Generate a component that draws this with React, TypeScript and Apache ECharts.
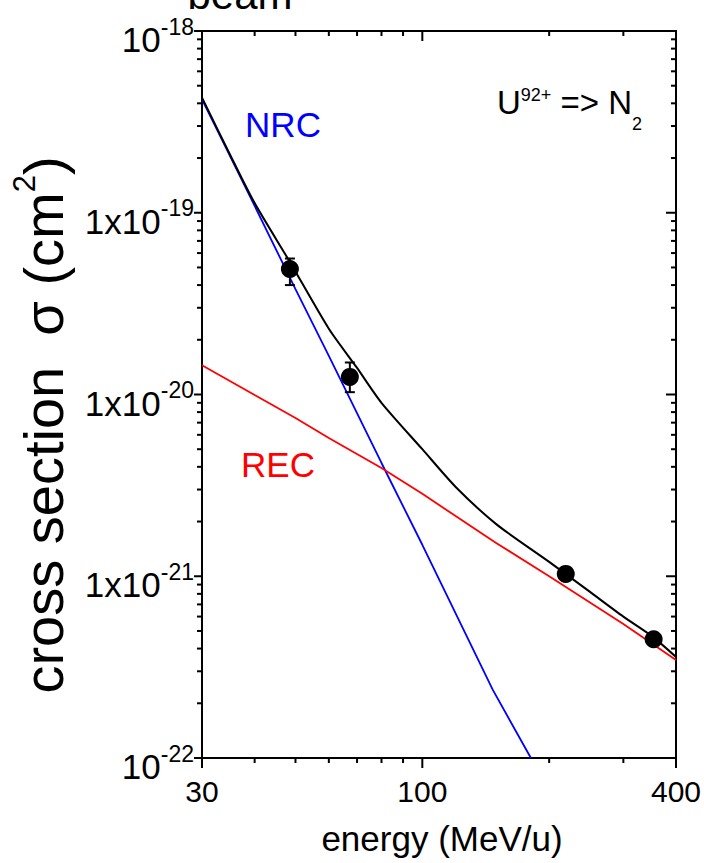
import React, { useEffect, useRef } from "react";
import * as echarts from "echarts";

// ---- data ----
const nrcEnergy = [30, 40, 50, 60, 80, 100, 147, 181];
const nrcSigma = [4.2e-19, 1.09e-19, 3.8e-20, 1.63e-20, 4.2e-21, 1.49e-21, 2.37e-22, 1.0e-22];

const recEnergy = [30, 40, 50, 60, 80, 100, 150, 200, 300, 400];
const recSigma = [1.45e-20, 9.93e-21, 7.43e-21, 5.77e-21, 3.94e-21, 2.84e-21, 1.52e-21, 1.0e-21, 5.46e-22, 3.46e-22];

const totalEnergy = [30, 35, 40, 48.5, 60, 70, 80, 100, 120, 150, 200, 250, 300, 350, 400];
const totalSigma = [4.3e-19, 2.08e-19, 1.13e-19, 5.36e-20, 2.3e-20, 1.4e-20, 9.0e-21, 5.0e-21, 3.1e-21, 1.93e-21, 1.2e-21, 8.2e-22, 6.0e-22, 4.7e-22, 3.6e-22];

const expEnergy = [48.5, 67.3, 219, 354];
const expSigma = [4.9e-20, 1.25e-20, 1.03e-21, 4.5e-22];
const expErrLow = [4.0e-20, 1.03e-20, 0.98e-21, 4.3e-22];
const expErrHigh = [5.6e-20, 1.5e-20, 1.08e-21, 4.7e-22];

// ---- axis ticks / labels ----
const xMajorTicks = [30, 100, 400];
const xTickLabels = ["30", "100", "400"];
const xMinorTicks = [40, 50, 60, 70, 80, 90, 200, 300];

const yMajorTicks = [1e-22, 1e-21, 1e-20, 1e-19, 1e-18];
const yTickMain = ["10", "1x10", "1x10", "1x10", "10"];
const yTickExp = ["-22", "-21", "-20", "-19", "-18"];
const yDecades = [1e-22, 1e-21, 1e-20, 1e-19];
const yMinorMultipliers = [2, 3, 4, 5, 6, 7, 8, 9];

const FONT = "'Liberation Sans', Arial, Helvetica, sans-serif";

function pairs(xs: number[], ys: number[]) {
  return xs.map((x, i) => [x, ys[i]]);
}

export default function App() {
  const ref = useRef<HTMLDivElement>(null);
  useEffect(() => {
    document.body.style.margin = "0";
    const chart = echarts.init(ref.current!, null, { renderer: "svg" });

    const xTickData = [
      ...xMajorTicks.map((v, i) => [v, 1e-20, 1, i]),
      ...xMinorTicks.map((v) => [v, 1e-20, 0, -1]),
    ];
    const yMinor: number[] = [];
    yDecades.forEach((d) => yMinorMultipliers.forEach((m) => yMinor.push(m * d)));
    const yTickData = [
      ...yMajorTicks.map((v, i) => [100, v, 1, i]),
      ...yMinor.map((v) => [100, v, 0, -1]),
    ];

    const tickStyle = { stroke: "#000", lineWidth: 2 };

    const option: any = {
      animation: false,
      grid: {
        left: 202,
        right: 28,
        top: 31,
        bottom: 105,
        show: true,
        borderColor: "#000",
        borderWidth: 2,
        backgroundColor: "transparent",
      },
      xAxis: {
        type: "log",
        logBase: 10,
        min: 30,
        max: 400,
        axisLine: { show: false },
        axisTick: { show: false },
        axisLabel: { show: false },
        splitLine: { show: false },
      },
      yAxis: {
        type: "log",
        logBase: 10,
        min: 1e-22,
        max: 1e-18,
        axisLine: { show: false },
        axisTick: { show: false },
        axisLabel: { show: false },
        splitLine: { show: false },
      },
      series: [
        {
          type: "line",
          name: "NRC",
          data: pairs(nrcEnergy, nrcSigma),
          showSymbol: false,
          lineStyle: { color: "#0000ff", width: 1.8 },
          z: 3,
        },
        {
          type: "line",
          name: "total",
          data: pairs(totalEnergy, totalSigma),
          showSymbol: false,
          smooth: 0.25,
          lineStyle: { color: "#000", width: 2 },
          z: 4,
        },
        {
          type: "line",
          name: "REC",
          data: pairs(recEnergy, recSigma),
          showSymbol: false,
          lineStyle: { color: "#ff0000", width: 1.8 },
          z: 5,
        },
        {
          type: "custom",
          name: "errors",
          data: expEnergy.map((e, i) => [e, expErrLow[i], expErrHigh[i]]),
          encode: { x: 0, y: [1, 2] },
          z: 6,
          renderItem: (params: any, api: any) => {
            const lo = api.coord([api.value(0), api.value(1)]);
            const hi = api.coord([api.value(0), api.value(2)]);
            const w = 5;
            return {
              type: "group",
              children: [
                { type: "line", shape: { x1: lo[0], y1: lo[1], x2: hi[0], y2: hi[1] }, style: tickStyle },
                { type: "line", shape: { x1: lo[0] - w, y1: lo[1], x2: lo[0] + w, y2: lo[1] }, style: tickStyle },
                { type: "line", shape: { x1: hi[0] - w, y1: hi[1], x2: hi[0] + w, y2: hi[1] }, style: tickStyle },
              ],
            };
          },
        },
        {
          type: "scatter",
          name: "experiment",
          data: pairs(expEnergy, expSigma),
          symbol: "circle",
          symbolSize: 18,
          itemStyle: { color: "#000", opacity: 1 },
          z: 7,
        },
        {
          type: "custom",
          name: "xticks",
          data: xTickData,
          encode: { x: 0, y: 1 },
          clip: false,
          silent: true,
          z: 8,
          renderItem: (params: any, api: any) => {
            const cs = params.coordSys;
            const x = api.coord([api.value(0), 1e-20])[0];
            const major = api.value(2) === 1;
            const len = major ? 10 : 5;
            const bottom = cs.y + cs.height;
            const top = cs.y;
            const children: any[] = [
              { type: "line", shape: { x1: x, y1: bottom, x2: x, y2: bottom + len }, style: tickStyle },
              { type: "line", shape: { x1: x, y1: top, x2: x, y2: top + len }, style: tickStyle },
            ];
            if (major) {
              const idx = api.value(3);
              children.push({
                type: "text",
                style: {
                  text: xTickLabels[idx],
                  x: x,
                  y: bottom + 33,
                  align: "center",
                  verticalAlign: "middle",
                  fontSize: 30,
                  fontFamily: FONT,
                  fill: "#000",
                },
              });
            }
            return { type: "group", children };
          },
        },
        {
          type: "custom",
          name: "yticks",
          data: yTickData,
          encode: { x: 0, y: 1 },
          clip: false,
          silent: true,
          z: 8,
          renderItem: (params: any, api: any) => {
            const cs = params.coordSys;
            const y = api.coord([100, api.value(1)])[1];
            const major = api.value(2) === 1;
            const left = cs.x;
            const right = cs.x + cs.width;
            const children: any[] = [
              { type: "line", shape: { x1: left, y1: y, x2: left - (major ? 8 : 5), y2: y }, style: tickStyle },
              { type: "line", shape: { x1: right, y1: y, x2: right - (major ? 10 : 5), y2: y }, style: tickStyle },
            ];
            if (major) {
              const idx = api.value(3);
              children.push({
                type: "text",
                style: {
                  text: "{b|" + yTickMain[idx] + "}{s|" + yTickExp[idx] + "}",
                  x: left - 8,
                  y: y + 5,
                  align: "right",
                  verticalAlign: "middle",
                  fill: "#000",
                  rich: {
                    b: { fontSize: 35, lineHeight: 42, verticalAlign: "bottom", fontFamily: FONT, fill: "#000" },
                    s: { fontSize: 23, lineHeight: 23, verticalAlign: "top", fontFamily: FONT, fill: "#000" },
                  },
                },
              });
            }
            return { type: "group", children };
          },
        },
      ],
      graphic: [
        {
          type: "text",
          x: 240,
          y: -6,
          style: { text: "beam", fontSize: 42, fontFamily: FONT, fill: "#000", align: "center", verticalAlign: "middle" },
        },
        {
          type: "text",
          x: 283,
          y: 124,
          style: { text: "NRC", fontSize: 35, fontFamily: FONT, fill: "#0000ff", align: "center", verticalAlign: "middle" },
        },
        {
          type: "text",
          x: 278,
          y: 464,
          style: { text: "REC", fontSize: 35, fontFamily: FONT, fill: "#ff0000", align: "center", verticalAlign: "middle" },
        },
        {
          type: "text",
          x: 497,
          y: 104,
          style: {
            text: "{a|U}{p|92+}{a| => N}",
            align: "left",
            verticalAlign: "middle",
            rich: {
              a: { fontSize: 33, lineHeight: 36, fontFamily: FONT, fill: "#000", verticalAlign: "top" },
              p: { fontSize: 18, lineHeight: 18, fontFamily: FONT, fill: "#000", verticalAlign: "top" },
            },
          },
        },
        {
          type: "text",
          x: 632,
          y: 124,
          style: { text: "2", fontSize: 18, fontFamily: FONT, fill: "#000", align: "left", verticalAlign: "middle" },
        },
        {
          type: "text",
          x: 442,
          y: 838,
          style: { text: "energy (MeV/u)", fontSize: 35, fontFamily: FONT, fill: "#000", align: "center", verticalAlign: "middle" },
        },
        {
          type: "text",
          x: 40,
          y: 425,
          rotation: Math.PI / 2,
          style: {
            text: "{a|cross section  σ (cm}{s|2}{a|)}",
            align: "center",
            verticalAlign: "middle",
            rich: {
              a: { fontSize: 56, lineHeight: 62, fontFamily: FONT, fill: "#000", verticalAlign: "bottom" },
              s: { fontSize: 31, lineHeight: 31, fontFamily: FONT, fill: "#000", verticalAlign: "top" },
            },
          },
        },
      ],
    };

    chart.setOption(option);
    return () => chart.dispose();
  }, []);

  return (
    <div
      ref={ref}
      style={{ position: "fixed", left: 0, top: 0, width: 704, height: 863, background: "#fff" }}
    />
  );
}
